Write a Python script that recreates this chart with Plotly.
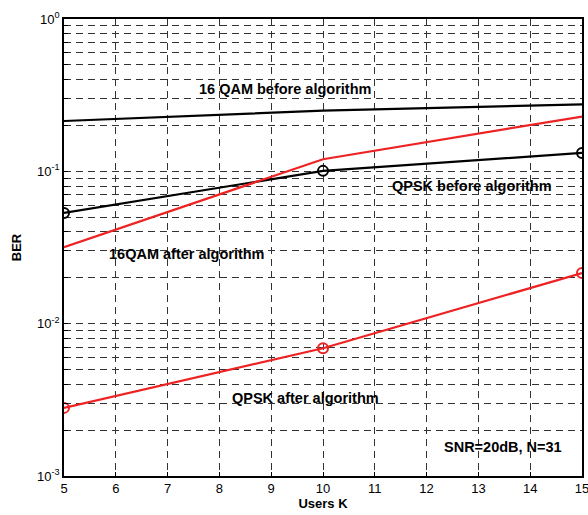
import math
import plotly.graph_objects as go

users = [5, 10, 15]
qam16_before = [0.214, 0.25, 0.275]
qpsk_before = [0.0533, 0.1007, 0.132]
qam16_after = [0.0318, 0.120, 0.229]
qpsk_after = [0.0028, 0.0069, 0.0215]

ytick_vals = [0.001, 0.01, 0.1, 1]
ytick_text = ["10<sup>-3</sup>", "10<sup>-2</sup>", "10<sup>-1</sup>", "10<sup>0</sup>"]

fig = go.Figure()
fig.add_trace(go.Scatter(x=users, y=qam16_before, mode="lines",
                         line=dict(color="black", width=2.2)))
fig.add_trace(go.Scatter(x=users, y=qpsk_before, mode="lines+markers",
                         line=dict(color="black", width=2.2),
                         marker=dict(symbol="circle-open", size=10, color="black", line=dict(width=2))))
fig.add_trace(go.Scatter(x=users, y=qam16_after, mode="lines",
                         line=dict(color="#ee2222", width=2.2)))
fig.add_trace(go.Scatter(x=users, y=qpsk_after, mode="lines+markers",
                         line=dict(color="#ee2222", width=2.2),
                         marker=dict(symbol="circle-open", size=10, color="#ee2222", line=dict(width=2))))

# annotation positions on a log axis are given in log10 units
labels = [
    (9.27, 0.348, "16 QAM before algorithm"),
    (12.88, 0.0802, "QPSK before algorithm"),
    (7.37, 0.0286, "16QAM after algorithm"),
    (9.67, 0.00324, "QPSK after algorithm"),
    (13.47, 0.00155, "SNR=20dB, N=31"),
]
for x, y, t in labels:
    fig.add_annotation(x=x, y=math.log10(y), text="<b>%s</b>" % t, showarrow=False,
                       font=dict(size=14.5, color="black"))

grid = dict(gridcolor="#333333", gridwidth=1, griddash="7px,5px")
fig.update_xaxes(range=[5, 15], dtick=1, showline=True, linecolor="black", linewidth=1.5,
                 mirror=True, ticks="inside", ticklen=4, tickcolor="black", automargin=False,
                 ticklabeloverflow="allow",
                 title=dict(text="<b>Users K</b>", font=dict(size=13), standoff=0),
                 tickfont=dict(size=13), zeroline=False, **grid)
fig.update_yaxes(type="log", range=[-3, 0], tickvals=ytick_vals, ticktext=ytick_text,
                 showline=True, linecolor="black", linewidth=1.5, mirror=True,
                 ticks="inside", ticklen=4, tickcolor="black", automargin=False,
                 minor=dict(dtick="D1", showgrid=True, ticks="inside", ticklen=4, tickcolor="black", **grid),
                 title=dict(text="<b>BER</b>", font=dict(size=13), standoff=13),
                 tickfont=dict(size=13), **grid)

fig.update_layout(width=588, height=515, showlegend=False,
                  plot_bgcolor="white", paper_bgcolor="white",
                  font=dict(family="Liberation Sans, Arial, sans-serif", color="black"),
                  margin=dict(l=64, r=6, t=19, b=39, autoexpand=False))

# drop the default body margin so the figure fills the window exactly
fig.write_html("out.html", config={"displayModeBar": False},
               post_script="document.body.style.margin='0';document.body.style.overflow='hidden';")
